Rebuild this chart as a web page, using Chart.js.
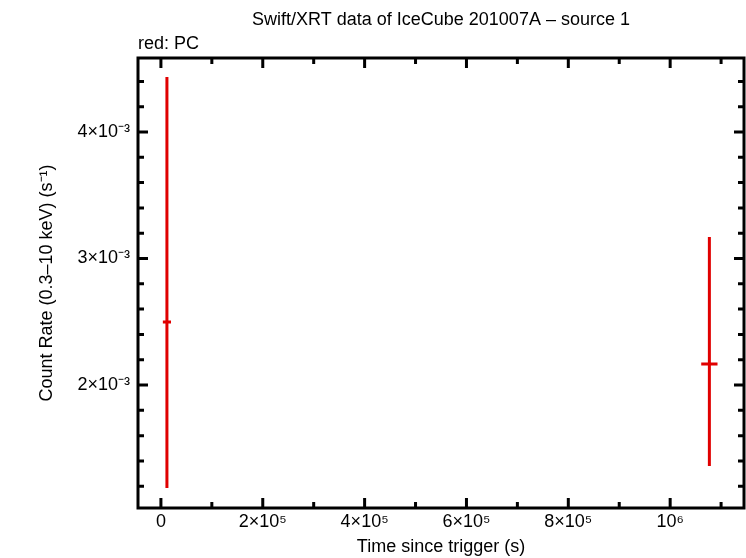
<!DOCTYPE html>
<html><head><meta charset="utf-8">
<script src="https://cdn.jsdelivr.net/npm/chart.js@4"></script>
<style>body{margin:0;background:#fff}#w{width:746px;height:558px}</style>
</head><body><div id="w"><canvas id="c"></canvas></div>
<script>
const times=[11800,1077000];
const timeErr=[8000,16000];
const rates=[2.498e-3,2.166e-3];
const rateLo=[1.186e-3,1.36e-3];
const rateHi=[4.435e-3,3.17e-3];
const xTicks=[0,2e5,4e5,6e5,8e5,1e6];
const xTickLabels=['0','2×10⁵','4×10⁵','6×10⁵','8×10⁵','10⁶'];
const yTicks=[2e-3,3e-3,4e-3];
const yTickLabels=['2×10⁻³','3×10⁻³','4×10⁻³'];
const FONT='"Liberation Sans", Arial, sans-serif';

const deco={id:'deco',afterDatasetsDraw(ch){
  const c=ch.ctx,a=ch.chartArea,x=ch.scales.x,y=ch.scales.y;
  c.save();
  c.strokeStyle='#e00000';c.lineWidth=3;
  times.forEach((t,i)=>{
    const px=x.getPixelForValue(t),py=y.getPixelForValue(rates[i]);
    c.beginPath();
    c.moveTo(px,y.getPixelForValue(rateLo[i]));c.lineTo(px,y.getPixelForValue(rateHi[i]));
    c.moveTo(x.getPixelForValue(t-timeErr[i]),py);c.lineTo(x.getPixelForValue(t+timeErr[i]),py);
    c.stroke();
  });
  c.strokeStyle='#000';c.lineWidth=3;
  c.strokeRect(a.left,a.top,a.right-a.left,a.bottom-a.top);
  c.beginPath();
  for(let v=0;v<=1.1e6;v+=1e5){const px=x.getPixelForValue(v);if(px<a.left||px>a.right)continue;
    const L=(Math.round(v/1e5)%2===0)?10:6;
    c.moveTo(px,a.bottom);c.lineTo(px,a.bottom-L);c.moveTo(px,a.top);c.lineTo(px,a.top+L);}
  for(let k=6;k<=45;k++){const vv=k*2e-4;const py=y.getPixelForValue(vv);if(py<a.top||py>a.bottom)continue;
    const L=(k%5===0)?10:6;
    c.moveTo(a.left,py);c.lineTo(a.left+L,py);c.moveTo(a.right,py);c.lineTo(a.right-L,py);}
  c.stroke();
  c.fillStyle='#000';c.font='18px '+FONT;c.textAlign='center';c.textBaseline='alphabetic';
  c.fillText('Swift/XRT data of IceCube 201007A – source 1',(a.left+a.right)/2,25);
  c.textAlign='left';c.fillText('red: PC',a.left,49);
  c.restore();
}};

new Chart(document.getElementById('c'),{
  type:'scatter',
  data:{datasets:[{data:times.map((t,i)=>({x:t,y:rates[i]})),pointRadius:0,showLine:false}]},
  options:{responsive:true,maintainAspectRatio:false,animation:false,
    layout:{padding:{top:58,right:2,left:0,bottom:0}},
    plugins:{legend:{display:false},tooltip:{enabled:false}},
    scales:{
      x:{type:'linear',min:-45000,max:1.145e6,
        afterBuildTicks:s=>{s.ticks=xTicks.map(v=>({value:v}));},
        afterFit:s=>{s.height=50;},
        grid:{display:false,drawTicks:false},border:{display:false},
        ticks:{padding:3,color:'#000',font:{family:FONT,size:18},maxRotation:0,callback:(v)=>{const i=xTicks.indexOf(v);return i>=0?xTickLabels[i]:'';}},
        title:{display:true,text:'Time since trigger (s)',color:'#000',font:{family:FONT,size:18},padding:{top:0,bottom:0}}},
      y:{type:'linear',min:1.028e-3,max:4.585e-3,
        afterBuildTicks:s=>{s.ticks=yTicks.map(v=>({value:v}));},
        afterFit:s=>{s.width=138;},
        grid:{display:false,drawTicks:false},border:{display:false},
        ticks:{padding:8,color:'#000',font:{family:FONT,size:18},callback:(v)=>{const i=yTicks.findIndex(t=>Math.abs(t-v)<1e-9);return i>=0?yTickLabels[i]:'';}},
        title:{display:true,text:'Count Rate (0.3–10 keV) (s⁻¹)',color:'#000',font:{family:FONT,size:18},padding:{top:36,bottom:0}}}
    }},
  plugins:[deco]
});
</script></body></html>
